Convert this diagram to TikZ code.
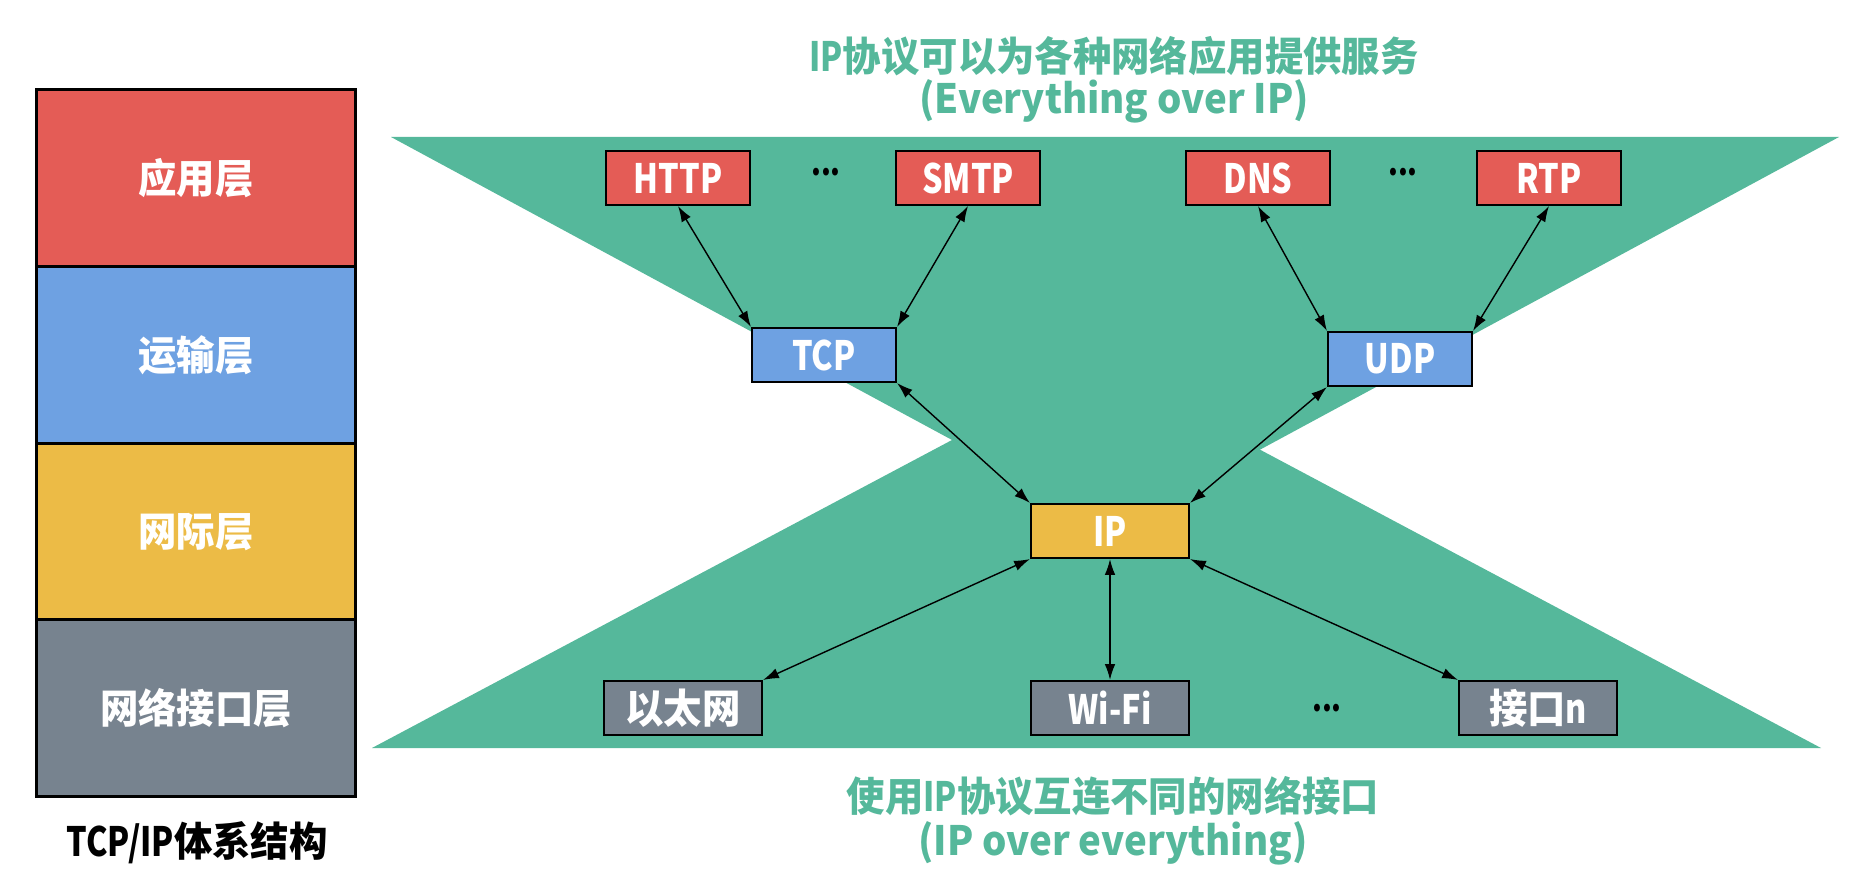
\documentclass[tikz,border=0pt]{standalone}
\usepackage{fontspec}
\setmainfont{Noto Sans CJK SC}[FakeStretch=0.95,BoldFont=* Black]
\newfontfamily\latfont{Noto Sans CJK SC}[FakeStretch=0.80,BoldFont=* Black]
\usetikzlibrary{arrows.meta}
\definecolor{hgreen}{HTML}{55B89B}
\definecolor{appred}{HTML}{E45C56}
\definecolor{tpblue}{HTML}{6EA1E2}
\definecolor{ipyellow}{HTML}{ECBB46}
\definecolor{ifgray}{HTML}{77838F}
\newcommand\lat[1]{{\latfont\bfseries #1}}
\begin{document}
\begin{tikzpicture}[x=0.02cm,y=-0.02cm,
    every node/.style={font=\fontsize{23}{27}\selectfont\bfseries},
    layer/.style={draw,line width=1.2pt,minimum width=6.38cm,minimum height=3.54cm,text=white},
    proto/.style={draw,line width=1.2pt,minimum width=2.88cm,minimum height=1.08cm,inner sep=0pt,text=white},
    wproto/.style={proto,minimum width=3.16cm},
    dots/.style={font=\fontsize{20}{22}\selectfont\bfseries},
    title/.style={text=hgreen}]
  \useasboundingbox (0,0) rectangle (1868,884);
  \fill[hgreen] (391,137) -- (1839,137) -- (1115,528) -- cycle;
  \fill[hgreen] (372,748) -- (1821,748) -- (1097,363) -- cycle;
  \draw
    (196,178) node[layer,fill=appred] (app){应用层}
    (196,355) node[layer,fill=tpblue] (tra){运输层}
    (196,532) node[layer,fill=ipyellow] (net){网际层}
    (196,708) node[layer,fill=ifgray] (lnk){网络接口层}
    (197,843) node (arch){\lat{TCP/IP}体系结构};
  \draw
    (1114,56) node[title] (top1){\lat{IP}协议可以为各种网络应用提供服务}
    (1114,101) node[title] (top2){(Everything over IP)}
    (1113,796) node[title] (bot1){使用\lat{IP}协议互连不同的网络接口}
    (1113,843) node[title] (bot2){(IP over everything)};
  \draw
    (678,178) node[proto,fill=appred] (http){\lat{HTTP}}
    (826,172) node[dots] (d1){\lat{...}}
    (968,178) node[proto,fill=appred] (smtp){\lat{SMTP}}
    (1258,178) node[proto,fill=appred] (dns){\lat{DNS}}
    (1403,172) node[dots] (d2){\lat{...}}
    (1549,178) node[proto,fill=appred] (rtp){\lat{RTP}}
    (824,355) node[proto,fill=tpblue] (tcp){\lat{TCP}}
    (1400,359) node[proto,fill=tpblue] (udp){\lat{UDP}}
    (1110,531) node[wproto,fill=ipyellow] (ip){\lat{IP}}
    (683,708) node[wproto,fill=ifgray] (eth){以太网}
    (1110,708) node[wproto,fill=ifgray] (wifi){\lat{Wi-Fi}}
    (1327,708) node[dots] (d3){\lat{...}}
    (1538,708) node[wproto,fill=ifgray] (ifn){接口\lat{n}};
  \begin{scope}[line width=0.8pt,{Latex[length=9pt,width=6pt]}-{Latex[length=9pt,width=6pt]}]
    \draw (http.south) to (tcp.north west);
    \draw (smtp.south) to (tcp.north east);
    \draw (dns.south) to (udp.north west);
    \draw (rtp.south) to (udp.north east);
    \draw (tcp.south east) to (ip.north west);
    \draw (udp.south west) to (ip.north east);
    \draw (ip.south west) to (eth.north east);
    \draw (ip.south) to (wifi.north);
    \draw (ip.south east) to (ifn.north west);
  \end{scope}
\end{tikzpicture}
\end{document}
